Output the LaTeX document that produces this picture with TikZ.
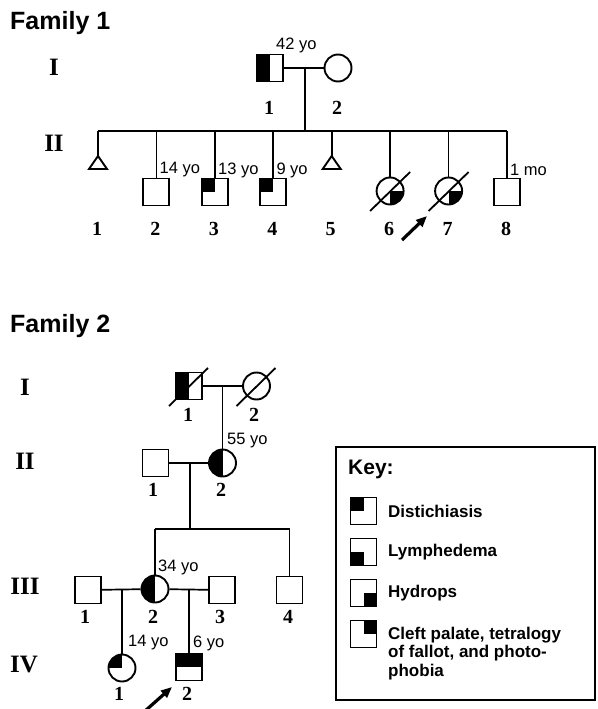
\documentclass[tikz,border=0pt]{standalone}
\usepackage{fontspec}
\setmainfont{Liberation Serif}
\newfontfamily\hv{Liberation Sans}
\usetikzlibrary{arrows.meta}
\begin{document}
\begin{tikzpicture}[x=1pt,y=-1pt,
  ln/.style={line width=1.7pt},
  sym/.style={draw, line width=1.9pt, inner sep=0pt},
  male/.style={sym, rectangle, minimum width=26pt, minimum height=27pt},
  female/.style={sym, circle, minimum size=27pt},
  shade/.style args={#1/#2}{path picture={\fill[black] (path picture bounding box.#1) rectangle (path picture bounding box.#2);}},
  slash/.style={line width=1.8pt},
  proband/.style={line width=3.2pt, -{Triangle[length=11pt,width=9pt]}},
  num/.style={font=\fontsize{20}{20}\selectfont\bfseries, inner sep=0pt},
  gen/.style={font=\fontsize{25}{25}\selectfont\bfseries, inner sep=0pt},
  age/.style={font=\hv\fontsize{16.5}{16.5}\selectfont, anchor=west, inner sep=0pt},
  title/.style={font=\hv\bfseries\fontsize{25}{25}\selectfont, anchor=base west, inner sep=0pt},
  keytxt/.style={font=\hv\bfseries\fontsize{17}{18.5}\selectfont, anchor=west, inner sep=0pt, align=left}
]
\useasboundingbox (0,0) rectangle (597,709);
\clip (0,0) rectangle (597,709);

% ---------------- Family 1 ----------------
\node[title] (t1) at (10,30) {Family 1};
\node[gen] (g1a) at (54,67) {I};
\node[gen] (g1b) at (54,143) {II};

\node[male, shade={north west/south}] (f1i1) at (270,68) {};
\node[female] (f1i2) at (338,68) {};
\node[age] (a42) at (276,45) {42 yo};
\node[num] (n1i1) at (269,108) {1};
\node[num] (n1i2) at (337,108) {2};
\draw[ln] (f1i1) -- (f1i2);
\coordinate (f1d) at (305,68);
\coordinate (f1sm) at (305,131);
\draw[ln] (f1d) -- (f1sm);

\foreach \i/\x in {1/98,2/156.4,3/214.9,4/273.3,5/331.7,6/390.1,7/448.6,8/507}{
  \coordinate (f1s\i) at (\x,131);
  \node[num] (n1ii\i) at (\x-1,229) {\i};
}
\draw[ln] (f1s1) -- (f1s8);

% triangles (1 and 5)
\coordinate (f1c1) at (98,156);
\coordinate (f1c5) at (331.7,156);
\draw[ln] (f1s1) -- (f1c1);
\draw[ln] (f1s5) -- (f1c5);
\draw[line width=1.9pt, line join=miter] (f1c1) -- ++(9,13) -- ++(-18,0) -- cycle;
\draw[line width=1.9pt, line join=miter] (f1c5) -- ++(9,13) -- ++(-18,0) -- cycle;

\node[male] (f1c2) at (156.4,192) {};
\node[male, shade={north west/center}] (f1c3) at (214.9,192) {};
\node[male, shade={north west/center}] (f1c4) at (273.3,192) {};
\node[female, shade={center/south east}] (f1c6) at (390.1,191) {};
\node[female, shade={center/south east}] (f1c7) at (448.6,191) {};
\node[male] (f1c8) at (507,192) {};
\foreach \i in {2,3,4,6,7,8}{\draw[ln] (f1s\i) -- (f1c\i);}
\draw[slash, shift={(f1c6.center)}] (-20,20) -- (20,-19);
\draw[slash, shift={(f1c7.center)}] (-20,20) -- (20,-19);

\node[age] (a14) at (159.4,170) {14 yo};
\node[age] (a13) at (217.9,170) {13 yo};
\node[age] (a9) at (276.3,170) {9 yo};
\node[age] (a1mo) at (510,170) {1 mo};

\coordinate (p1t) at (402,240);
\coordinate (p1h) at (427,216);
\draw[proband] (p1t) -- (p1h);

% ---------------- Family 2 ----------------
\node[title] (t2) at (10,332) {Family 2};
\node[gen] (g2a) at (25,387) {I};
\node[gen] (g2b) at (25,461) {II};
\node[gen] (g2c) at (25,586) {III};
\node[gen] (g2d) at (24,664) {IV};

\node[male, shade={north west/south}] (f2i1) at (189,386) {};
\node[female] (f2i2) at (256.5,386) {};
\draw[slash, shift={(f2i1.center)}] (-20,20) -- (19,-18);
\draw[slash, shift={(f2i2.center)}] (-20,20) -- (19,-18);
\draw[ln] (f2i1) -- (f2i2);
\node[num] (n2i1) at (188,415) {1};
\node[num] (n2i2) at (254,415) {2};
\coordinate (f2d1) at (222.5,386);

\node[male] (f2ii1) at (155.5,463) {};
\node[female, shade={north west/south}] (f2ii2) at (222.5,463) {};
\draw[ln] (f2d1) -- (f2ii2);
\draw[ln] (f2ii1) -- (f2ii2);
\node[age] (a55) at (227,441) {55 yo};
\node[num] (n2ii1) at (153,490) {1};
\node[num] (n2ii2) at (221,490) {2};
\coordinate (f2d2) at (190,463);
\coordinate (f2d2b) at (190,529);
\draw[ln] (f2d2) -- (f2d2b);
\coordinate (f2s2) at (155,529);
\coordinate (f2s4) at (289.5,529);
\draw[ln] (f2s2) -- (f2s4);

\node[male] (f2iii1) at (88,590) {};
\node[female, shade={north west/south}] (f2iii2) at (155,589) {};
\node[male] (f2iii3) at (222,590) {};
\node[male] (f2iii4) at (289.5,590) {};
\draw[ln] (f2s2) -- (f2iii2);
\draw[ln] (f2s4) -- (f2iii4);
\draw[ln] (f2iii1) -- (f2iii2);
\draw[ln] (f2iii2) -- (f2iii3);
\node[age] (a34) at (158,567) {34 yo};
\node[num] (n2iii1) at (85,617) {1};
\node[num] (n2iii2) at (153,617) {2};
\node[num] (n2iii3) at (220,617) {3};
\node[num] (n2iii4) at (288,617) {4};

\coordinate (f2d3) at (122,589);
\coordinate (f2d4) at (189,589);
\node[female, shade={north west/center}] (f2iv1) at (122,668) {};
\node[male, shade={north west/east}] (f2iv2) at (189,667) {};
\draw[ln] (f2d3) -- (f2iv1);
\draw[ln] (f2d4) -- (f2iv2);
\node[age] (a14b) at (128,643) {14 yo};
\node[age] (a6) at (193,643) {6 yo};
\node[num] (n2iv1) at (119,694) {1};
\node[num] (n2iv2) at (187,694) {2};

\coordinate (p2t) at (145,711);
\coordinate (p2h) at (172,687);
\draw[proband] (p2t) -- (p2h);

% ---------------- Key ----------------
\draw[line width=1.8pt] (336,447) rectangle (595,700);
\node[keytxt, font=\hv\bfseries\fontsize{21}{21}\selectfont] (kt) at (348,469) {Key:};
\node[male, shade={north west/center}] (k1) at (363.5,511) {};
\node[male, shade={west/south}] (k2) at (363.5,552) {};
\node[male, shade={center/south east}] (k3) at (363.5,593) {};
\node[male, shade={north/east}] (k4) at (363.5,634) {};
\node[keytxt] (kt1) at (388,511) {Distichiasis};
\node[keytxt] (kt2) at (388,552) {Lymphedema};
\node[keytxt] (kt3) at (388,593) {Hydrops};
\node[keytxt] (kt4) at (388,653.5) {Cleft palate, tetralogy\\of fallot, and photo-\\phobia};
\end{tikzpicture}
\end{document}
